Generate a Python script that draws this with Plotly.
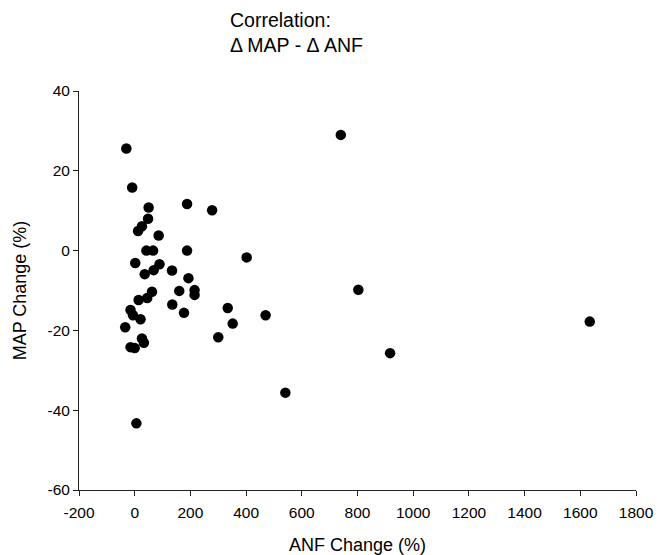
import plotly.graph_objects as go

# Percent change in plasma ANF (x) and mean arterial pressure (y) per subject
anf_change = [-30, -9, 50, 48, 26, 12, 86, 188, 42, 66,
              188, 2, 89, 68, 36, 134, 193, 160, 215, 215,
              62, 45, 14, 135, 177, -15, -6, 21, -34, 26,
              33, -15, 0, 6, 278, 402, 334, 352, 470, 300,
              541, 740, 803, 917, 1634]
map_change = [25.6, 15.8, 10.8, 8.0, 6.1, 4.9, 3.8, 11.7, 0, 0,
              0, -3.1, -3.4, -4.9, -5.9, -5.0, -6.9, -10.1, -9.9, -11.1,
              -10.3, -11.9, -12.4, -13.5, -15.6, -14.9, -16.2, -17.2, -19.2, -22.0,
              -23.1, -24.2, -24.4, -43.3, 10.1, -1.7, -14.4, -18.3, -16.2, -21.7,
              -35.6, 29.0, -9.8, -25.7, -17.8]

x_ticks = [-200, 0, 200, 400, 600, 800, 1000, 1200, 1400, 1600, 1800]
y_ticks = [-60, -40, -20, 0, 20, 40]

FONT = "Liberation Sans, Arial, Helvetica, sans-serif"

fig = go.Figure(
    go.Scatter(
        x=anf_change,
        y=map_change,
        mode="markers",
        marker=dict(size=10.5, color="black", line=dict(width=0)),
        showlegend=False,
    )
)

axis_common = dict(
    showgrid=False,
    zeroline=False,
    showline=True,
    linecolor="#222222",
    linewidth=1,
    ticks="outside",
    ticklen=5,
    tickwidth=1,
    tickcolor="#222222",
    tickfont=dict(family=FONT, size=15.5, color="black"),
    automargin=False,
)

fig.update_xaxes(
    range=[-200, 1800],
    tickvals=x_ticks,
    ticktext=[str(v) for v in x_ticks],
    ticklabelstandoff=3,
    title=dict(text="ANF Change (%)", font=dict(family=FONT, size=18, color="black"), standoff=21),
    **axis_common,
)
fig.update_yaxes(
    range=[-60, 40],
    tickvals=y_ticks,
    ticktext=[str(v) for v in y_ticks],
    title=dict(text="MAP Change (%)", font=dict(family=FONT, size=18, color="black"), standoff=16),
    **axis_common,
)

fig.add_annotation(
    xref="paper", yref="paper",
    x=(228 - 79) / (636 - 79), y=1.0,
    xanchor="left", yanchor="bottom",
    yshift=33,
    align="left",
    showarrow=False,
    text="Correlation:<br>\u0394 MAP - \u0394 ANF",
    font=dict(family=FONT, size=19.5, color="black"),
)

fig.update_layout(
    width=662,
    height=555,
    margin=dict(l=79, r=26, t=91, b=65),
    paper_bgcolor="white",
    plot_bgcolor="white",
)

fig.write_html("out.html")
